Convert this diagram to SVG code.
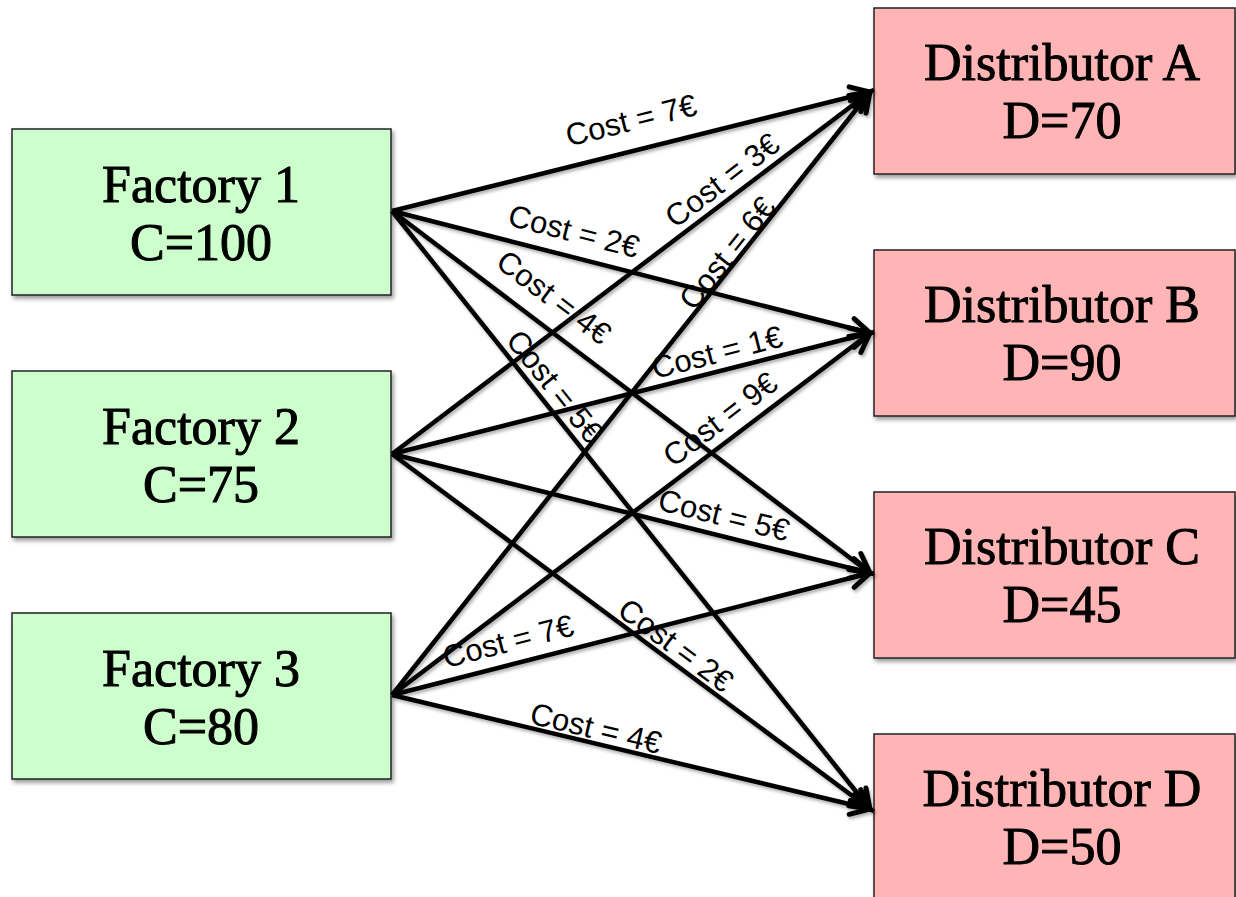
<svg xmlns="http://www.w3.org/2000/svg" width="1236" height="897" viewBox="0 0 1236 897">
<defs>
<style>
.box{stroke:#222;stroke-width:1.5}
.fac{fill:#ccffcc}
.dis{fill:#ffb5b5}
.nt{font-family:"Liberation Serif","Times New Roman",serif;font-size:52px;fill:#000;stroke:#000;stroke-width:1;text-anchor:middle}
.ln{stroke:#000;stroke-width:4.5;fill:none;marker-end:url(#arr)}
.lb{font-family:"Liberation Sans",Arial,sans-serif;font-size:31px;fill:#000;text-anchor:middle}
</style>
<filter id="sh" x="-10%" y="-10%" width="130%" height="130%">
<feDropShadow dx="2" dy="3" stdDeviation="2" flood-color="#000" flood-opacity="0.4"/>
</filter>
<filter id="lsh" x="-10%" y="-10%" width="130%" height="130%">
<feDropShadow dx="1.5" dy="2.5" stdDeviation="1.5" flood-color="#000" flood-opacity="0.3"/>
</filter>
<marker id="arr" markerUnits="userSpaceOnUse" markerWidth="40" markerHeight="40" viewBox="-30 -20 40 40" refX="0" refY="0" orient="auto">
<path d="M-19,-10 L0,0 L-19,10" fill="none" stroke="#000" stroke-width="5" stroke-linejoin="miter" stroke-linecap="round"/>
</marker>
</defs>
<rect width="1236" height="897" fill="#fff"/>

<g id="factory1" filter="url(#sh)">
<rect class="box fac" x="12" y="129" width="379" height="166"/>
<text class="nt" x="201" y="202">Factory 1</text>
<text class="nt" x="201" y="260">C=100</text>
</g>
<g id="factory2" filter="url(#sh)">
<rect class="box fac" x="12" y="371" width="379" height="166"/>
<text class="nt" x="201" y="444">Factory 2</text>
<text class="nt" x="201" y="502">C=75</text>
</g>
<g id="factory3" filter="url(#sh)">
<rect class="box fac" x="12" y="613" width="379" height="166"/>
<text class="nt" x="201" y="686">Factory 3</text>
<text class="nt" x="201" y="744">C=80</text>
</g>

<g id="distributorA" filter="url(#sh)">
<rect class="box dis" x="874" y="8" width="361" height="166"/>
<text class="nt" x="1062" y="80">Distributor A</text>
<text class="nt" x="1062" y="138">D=70</text>
</g>
<g id="distributorB" filter="url(#sh)">
<rect class="box dis" x="874" y="250" width="361" height="166"/>
<text class="nt" x="1062" y="322">Distributor B</text>
<text class="nt" x="1062" y="380">D=90</text>
</g>
<g id="distributorC" filter="url(#sh)">
<rect class="box dis" x="874" y="492" width="361" height="166"/>
<text class="nt" x="1062" y="564">Distributor C</text>
<text class="nt" x="1062" y="622">D=45</text>
</g>
<g id="distributorD" filter="url(#sh)">
<rect class="box dis" x="874" y="734" width="361" height="170"/>
<text class="nt" x="1062" y="806">Distributor D</text>
<text class="nt" x="1062" y="864">D=50</text>
</g>

<g id="connectors" filter="url(#lsh)">
<line class="ln" x1="392" y1="211" x2="870" y2="92"/>
<line class="ln" x1="392" y1="211" x2="870" y2="333"/>
<line class="ln" x1="392" y1="211" x2="870" y2="573"/>
<line class="ln" x1="392" y1="211" x2="870" y2="809"/>
<line class="ln" x1="392" y1="454" x2="870" y2="92"/>
<line class="ln" x1="392" y1="454" x2="870" y2="333"/>
<line class="ln" x1="392" y1="454" x2="870" y2="573"/>
<line class="ln" x1="392" y1="454" x2="870" y2="809"/>
<line class="ln" x1="392" y1="695" x2="870" y2="92"/>
<line class="ln" x1="392" y1="695" x2="870" y2="333"/>
<line class="ln" x1="392" y1="695" x2="870" y2="573"/>
<line class="ln" x1="392" y1="695" x2="870" y2="809"/>
</g>
<g id="labels">
<text class="lb" transform="translate(631,120) rotate(-13.9)" dy="0.35em">Cost = 7€</text>
<text class="lb" transform="translate(722,180) rotate(-37.2)" dy="0.35em">Cost = 3€</text>
<text class="lb" transform="translate(727,253) rotate(-51.6)" dy="0.35em">Cost = 6€</text>
<text class="lb" transform="translate(574,231) rotate(14.3)" dy="0.35em">Cost = 2€</text>
<text class="lb" transform="translate(554,297) rotate(37.1)" dy="0.35em">Cost = 4€</text>
<text class="lb" transform="translate(555,386) rotate(51.3)" dy="0.35em">Cost = 5€</text>
<text class="lb" transform="translate(717,352) rotate(-14.3)" dy="0.35em">Cost = 1€</text>
<text class="lb" transform="translate(720,419) rotate(-37.2)" dy="0.35em">Cost = 9€</text>
<text class="lb" transform="translate(724,515) rotate(13.8)" dy="0.35em">Cost = 5€</text>
<text class="lb" transform="translate(508,641) rotate(-14.4)" dy="0.35em">Cost = 7€</text>
<text class="lb" transform="translate(676,645) rotate(36.5)" dy="0.35em">Cost = 2€</text>
<text class="lb" transform="translate(596,728) rotate(13.3)" dy="0.35em">Cost = 4€</text>
</g>
</svg>
